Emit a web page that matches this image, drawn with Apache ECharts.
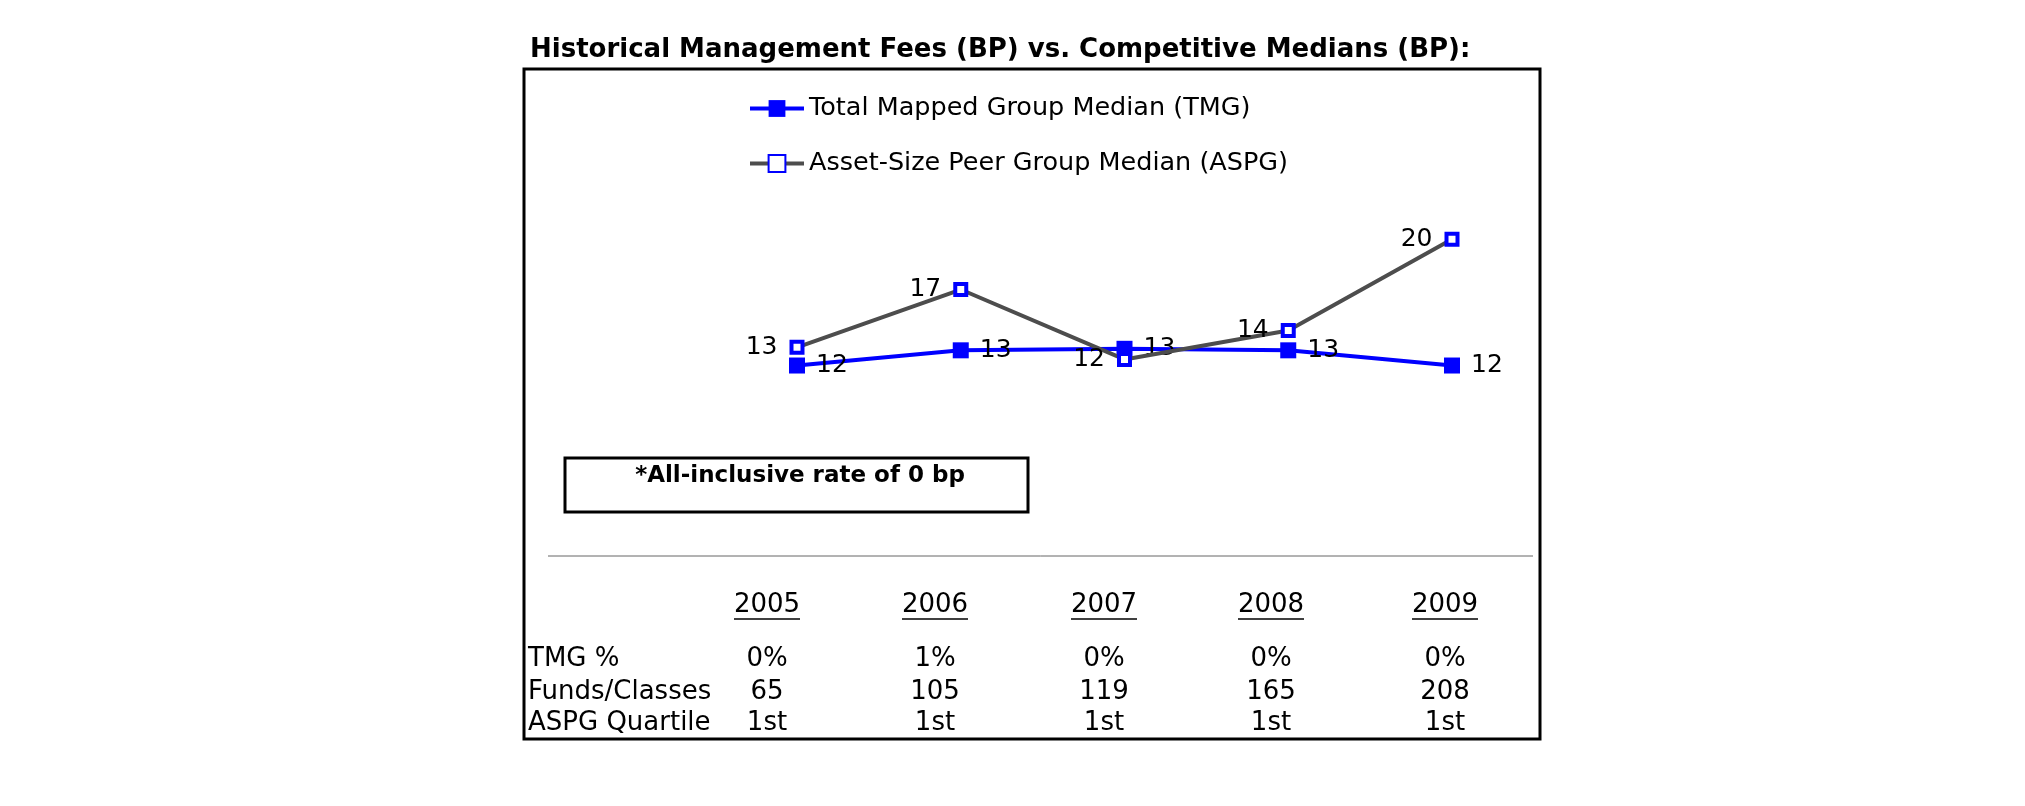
<!DOCTYPE html>
<html>
<head>
<meta charset="utf-8">
<script src="https://cdn.jsdelivr.net/npm/echarts@6/dist/echarts.min.js"></script>
<style>
html,body{margin:0;padding:0;background:#fff;}
#chart{width:2025px;height:806px;}
</style>
</head>
<body>
<div id="chart"></div>
<script>
// ---- data ----
const years = ['2005', '2006', '2007', '2008', '2009'];
const tmgSeriesName = 'Total Mapped Group Median (TMG)';
const aspgSeriesName = 'Asset-Size Peer Group Median (ASPG)';
const tmgValues = [11.9, 12.9, 13.0, 12.9, 11.9];
const aspgValues = [13.1, 16.9, 12.3, 14.2, 20.2];
const tableRowLabels = ['TMG %', 'Funds/Classes', 'ASPG Quartile'];
const tmgPct = ['0%', '1%', '0%', '0%', '0%'];
const fundsClasses = ['65', '105', '119', '165', '208'];
const aspgQuartile = ['1st', '1st', '1st', '1st', '1st'];
const titleText = 'Historical Management Fees (BP) vs. Competitive Medians (BP):';
const noteText = '*All-inclusive rate of 0 bp';

const FONT = '"DejaVu Sans", Verdana, sans-serif';
const chart = echarts.init(document.getElementById('chart'));

// table layout
const colX = [767, 935, 1104, 1271, 1445];
const headerY = 605;
const rowY = [659, 692, 723];
const rows = [tmgPct, fundsClasses, aspgQuartile];
const TABLE_FONT = '26px ' + FONT;

const graphics = [];
// outer frame
graphics.push({type:'rect', shape:{x:524, y:69, width:1016, height:670}, style:{fill:null, stroke:'#000', lineWidth:3}, silent:true});
// separator line
graphics.push({type:'line', shape:{x1:548, y1:556, x2:1533, y2:556}, style:{stroke:'#666', lineWidth:1}, silent:true});
// note box
graphics.push({type:'rect', shape:{x:565, y:458, width:463, height:54}, style:{fill:'#fff', stroke:'#000', lineWidth:3}, silent:true});
graphics.push({type:'text', x:800, y:476, style:{text:noteText, font:'bold 23px ' + FONT, fill:'#000', textAlign:'center', textVerticalAlign:'middle'}, silent:true});
// header years with underline
years.forEach((yr, i) => {
  graphics.push({type:'text', x:colX[i], y:headerY, style:{text:yr, font:TABLE_FONT, fill:'#000', textAlign:'center', textVerticalAlign:'middle'}, silent:true});
  graphics.push({type:'line', shape:{x1:colX[i]-33, y1:619, x2:colX[i]+33, y2:619}, style:{stroke:'#000', lineWidth:1.5}, silent:true});
});
// row labels and values
tableRowLabels.forEach((lab, r) => {
  graphics.push({type:'text', x:528, y:rowY[r], style:{text:lab, font:TABLE_FONT, fill:'#000', textAlign:'left', textVerticalAlign:'middle'}, silent:true});
  rows[r].forEach((v, i) => {
    graphics.push({type:'text', x:colX[i], y:rowY[r], style:{text:v, font:TABLE_FONT, fill:'#000', textAlign:'center', textVerticalAlign:'middle'}, silent:true});
  });
});

const labelFmt = p => String(Math.round(p.value));

chart.setOption({
  animation: false,
  backgroundColor: '#fff',
  title: {
    text: titleText,
    left: 530,
    top: 37,
    padding: 0,
    textStyle: {fontFamily: FONT, fontWeight: 'bold', fontSize: 26, color: '#000'}
  },
  legend: {
    orient: 'vertical',
    left: 748,
    top: 94,
    padding: 0,
    itemWidth: 54,
    itemHeight: 21,
    itemGap: 26,
    lineStyle: {width: 4},
    textStyle: {fontFamily: FONT, fontSize: 25.5, color: '#000', lineHeight: 29},
    data: [tmgSeriesName, aspgSeriesName]
  },
  grid: {left: 797, right: 573, top: 181.6, bottom: 320.4, containLabel: false},
  xAxis: {
    type: 'category',
    data: years,
    boundaryGap: false,
    show: false
  },
  yAxis: {
    type: 'value',
    min: 4,
    max: 24,
    show: false,
    splitLine: {show: false}
  },
  series: [
    {
      name: tmgSeriesName,
      type: 'line',
      data: tmgValues,
      symbol: 'rect',
      symbolSize: 16,
      lineStyle: {color: '#0000ff', width: 4},
      itemStyle: {color: '#0000ff'},
      label: {show: true, position: 'right', distance: 11, formatter: labelFmt,
        fontFamily: FONT, fontSize: 25, color: '#000'},
      z: 2
    },
    {
      name: aspgSeriesName,
      type: 'line',
      data: aspgValues,
      symbol: 'rect',
      symbolSize: 11,
      lineStyle: {color: '#4d4d4d', width: 4},
      itemStyle: {color: '#fff', borderColor: '#0000ff', borderWidth: 4},
      label: {show: true, position: 'left', distance: 12, formatter: labelFmt,
        fontFamily: FONT, fontSize: 25, color: '#000'},
      z: 3
    }
  ],
  graphic: graphics
});
</script>
</body>
</html>
